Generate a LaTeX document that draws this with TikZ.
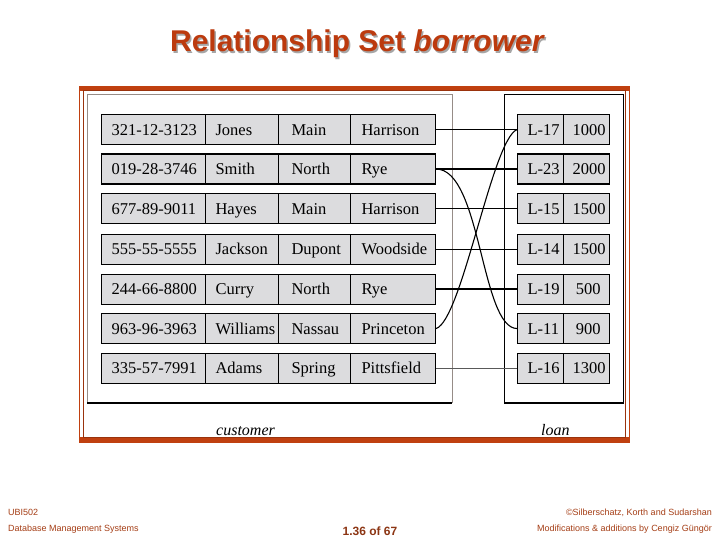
\documentclass[tikz,border=0pt]{standalone}
\usepackage{fontspec}
\setmainfont{Liberation Serif}
\setsansfont{Liberation Sans}
\usetikzlibrary{calc}
\definecolor{framecol}{RGB}{192,64,16}
\definecolor{titlecol}{RGB}{188,58,14}
\definecolor{footcol}{RGB}{165,62,22}
\definecolor{cellfill}{RGB}{220,220,222}
\definecolor{panelgray}{RGB}{150,140,135}
\begin{document}
\begin{tikzpicture}[x=1pt,y=-1pt,
  cell/.style={draw=black, line width=1.1pt, fill=cellfill, anchor=north west,
    minimum height=30pt, inner sep=0pt, font=\fontsize{16.5}{16.5}\selectfont,
    text height=12.5pt, text depth=1.5pt},
  lcell/.style={cell, align=left},
  rcell/.style={cell, align=right},
  conn/.style={draw=black, line width=0.9pt},
  connthick/.style={draw=black, line width=1.7pt},
  conngray/.style={draw=black!65, line width=0.7pt},
  conncurve/.style={draw=black, line width=1.1pt},
  footer/.style={text=footcol, font=\sffamily\fontsize{9}{9}\selectfont, inner sep=0pt},
  tablabel/.style={font=\itshape\fontsize{16}{16}\selectfont, inner sep=0pt, anchor=base west}]
\useasboundingbox (0,0) rectangle (720,540);
\fill[white] (0,0) rectangle (720,540);
% title
\node[text=black!35, font=\sffamily\bfseries\fontsize{30}{30}\selectfont, anchor=base, inner sep=0pt] (tshadow) at (359,53.5) {Relationship Set \textit{borrower}};
\node[text=titlecol, font=\sffamily\bfseries\fontsize{30}{30}\selectfont, anchor=base, inner sep=0pt] (title) at (357.5,52) {Relationship Set \textit{borrower}};
% frame
\draw[framecol, line width=1.2pt] (79.6,86.6) rectangle (629.4,442.4);
\fill[framecol] (79,86) rectangle (630,91.5);
\fill[framecol] (79,437) rectangle (630,443);
\draw[framecol!80!black, line width=1pt] (83.5,91) rectangle (625.5,437);
% panels
\draw[panelgray, line width=0.8pt] (87,94.5) -- (452,94.5) -- (452,403);
\draw[panelgray, line width=0.8pt] (87,94.5) -- (87,403);
\draw[black, line width=2pt] (87,403) -- (452.4,403);
\draw[black, line width=1pt] (504,95) rectangle (623,403);
\draw[black, line width=1.8pt] (504,403) -- (623.5,403);
% rows
\foreach \i/\t/\a/\b/\c/\d/\la/\lb in {
  1/114/321-12-3123/Jones/Main/Harrison/L-17/1000,
  2/153.5/019-28-3746/Smith/North/Rye/L-23/2000,
  3/193/677-89-9011/Hayes/Main/Harrison/L-15/1500,
  4/233.5/555-55-5555/Jackson/Dupont/Woodside/L-14/1500,
  5/273.5/244-66-8800/Curry/North/Rye/L-19/500,
  6/313/963-96-3963/Williams/Nassau/Princeton/L-11/900,
  7/352.5/335-57-7991/Adams/Spring/Pittsfield/L-16/1300} {
  \node[lcell, minimum width=104pt, text width=84pt] (ca\i) at (101,\t) {\mbox{\a}};
  \node[lcell, minimum width=73pt, text width=53pt] (cb\i) at (205,\t) {\mbox{\b}};
  \node[lcell, minimum width=72pt, text width=46pt] (cc\i) at (278,\t) {\mbox{\c}};
  \node[lcell, minimum width=85pt, text width=63pt] (cd\i) at (350,\t) {\mbox{\d}};
  \node[lcell, minimum width=46pt, text width=26pt] (la\i) at (517,\t) {\mbox{\la}};
  \node[rcell, minimum width=46pt, text width=28pt] (lb\i) at (563,\t) {\mbox{\lb}};
}
% connectors
\draw[conn] (cd1.east) -- (la1.west);
\draw[connthick] (cd2.east) -- (la2.west);
\draw[conn] (cd3.east) -- (la3.west);
\draw[conn] (cd4.east) -- (la4.west);
\draw[connthick] (cd5.east) -- (la5.west);
\draw[conngray] (cd7.east) -- (la7.west);
\draw[conncurve] (cd2.east) .. controls (481,169) and (481,328) .. (la6.west);
\draw[conncurve] (cd6.east) .. controls (462,320) and (492,140) .. (la1.west);
% labels
\node[tablabel] (custlabel) at (216,435) {customer};
\node[tablabel] (loanlabel) at (541,435) {loan};
% footer
\node[footer, anchor=base west] (f1) at (8,515.5) {UBI502};
\node[footer, anchor=base west] (f2) at (8,531) {Database Management Systems};
\node[footer, anchor=base, font=\sffamily\bfseries\fontsize{12}{12}\selectfont, text=footcol!85!black] (f3) at (370,535.5) {1.36 of 67};
\node[footer, anchor=base east] (f4) at (712,515.5) {©Silberschatz, Korth and Sudarshan};
\node[footer, anchor=base east] (f5) at (712,531) {Modifications \& additions by Cengiz Güngör};
\end{tikzpicture}
\end{document}
